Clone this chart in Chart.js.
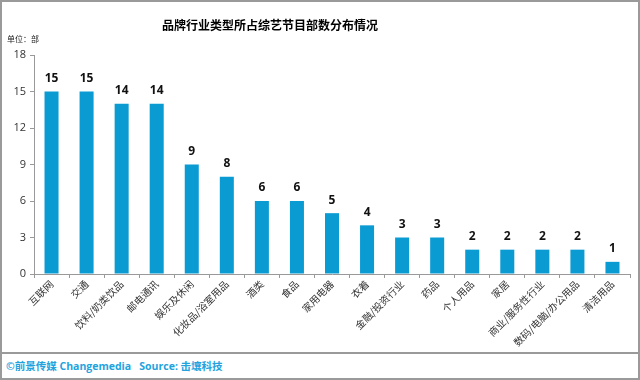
<!DOCTYPE html>
<html>
<head>
<meta charset="utf-8">
<script src="https://cdn.jsdelivr.net/npm/chart.js@4.4.1/dist/chart.umd.min.js"></script>
<style>
html,body{margin:0;padding:0;background:#fff;}
#box{position:relative;width:640px;height:380px;box-sizing:border-box;border:2px solid #9a9a9a;overflow:hidden;font-family:"Noto Sans CJK SC","Noto Sans",sans-serif;}
#chart-wrap{position:absolute;left:-2px;top:-2px;width:640px;height:352px;}
#title{position:absolute;left:0;width:536px;text-align:center;top:14px;font-size:12px;font-weight:bold;color:#000;}
#unit{position:absolute;left:5px;top:31px;font-size:8px;color:#222;}
#footer{position:absolute;left:0;right:0;top:350px;bottom:0;border-top:2px solid #9a9a9a;}
#footer span{position:absolute;left:4px;top:4px;font-size:10.5px;font-weight:bold;color:#23a3de;font-family:"Open Sans","Noto Sans CJK SC",sans-serif;}
</style>
</head>
<body>
<div id="box">
  <div id="chart-wrap"><canvas id="chart" width="640" height="352"></canvas></div>
  <div id="title">品牌行业类型所占综艺节目部数分布情况</div>
  <div id="unit">单位：部</div>
  <div id="footer"><span>©前景传媒 Changemedia&nbsp;&nbsp;&nbsp;Source: 击壤科技</span></div>
</div>
<script>
// categories and counts
const categories = ['互联网','交通','饮料/奶类饮品','邮电通讯','娱乐及休闲','化妆品/浴室用品','酒类','食品','家用电器','衣着','金融/投资行业','药品','个人用品','家居','商业/服务性行业','数码/电脑/办公用品','清洁用品'];
const counts = [15,15,14,14,9,8,6,6,5,4,3,3,2,2,2,2,1];
const yTicks = [0,3,6,9,12,15,18];

const barColor = '#0b9bd3';

// value labels above bars
const valueLabels = {
  id:'valueLabels',
  afterDatasetsDraw(chart){
    const ctx = chart.ctx;
    const meta = chart.getDatasetMeta(0);
    ctx.save();
    ctx.font = 'bold 12px "Open Sans","Noto Sans",sans-serif';
    ctx.fillStyle = '#111';
    ctx.textAlign = 'center';
    ctx.textBaseline = 'middle';
    meta.data.forEach((bar,i)=>{
      ctx.fillText(String(counts[i]), bar.x, bar.y - 13);
    });
    ctx.restore();
  }
};

const ctx = document.getElementById('chart').getContext('2d');
new Chart(ctx,{
  type:'bar',
  data:{labels:categories,datasets:[{data:counts,backgroundColor:barColor,barPercentage:0.4,categoryPercentage:1}]},
  options:{
    responsive:false,
    animation:false,
    layout:{padding:{top:55,right:10,left:0,bottom:0}},
    plugins:{legend:{display:false},tooltip:{enabled:false}},
    scales:{
      x:{
        offset:true,
        grid:{display:true,drawOnChartArea:false,offset:true,tickLength:4,color:'#999'},
        border:{color:'#999'},
        ticks:{autoSkip:false,maxRotation:45,minRotation:45,color:'#333',font:{size:10,family:'"Noto Sans CJK SC",sans-serif'},padding:0},
        afterFit(s){ s.height = 78; }
      },
      y:{
        min:0,max:18,
        afterBuildTicks(s){ s.ticks = yTicks.map(v=>({value:v})); },
        grid:{display:true,drawOnChartArea:false,tickLength:4,color:'#999'},
        border:{color:'#999'},
        ticks:{color:'#333',font:{size:11,family:'"Open Sans","Noto Sans",sans-serif'},padding:4},
        afterFit(s){ s.width = 34; }
      }
    }
  },
  plugins:[valueLabels]
});
</script>
</body>
</html>
